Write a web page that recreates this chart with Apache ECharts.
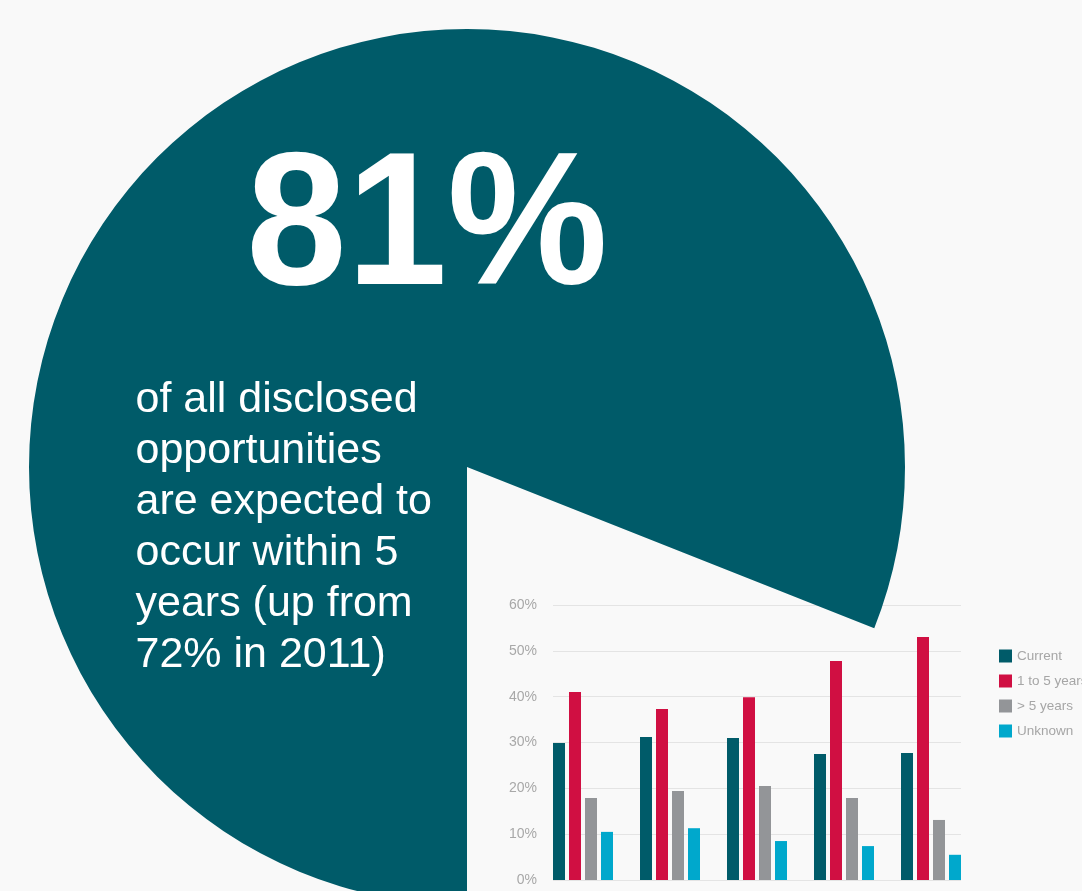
<!DOCTYPE html>
<html>
<head>
<meta charset="utf-8">
<script src="https://cdn.jsdelivr.net/npm/echarts@6/dist/echarts.min.js"></script>
<style>
  html, body { margin: 0; padding: 0; background: #f9f9f9; }
  #chart { width: 1082px; height: 891px; }
</style>
</head>
<body>
<div id="chart"></div>
<script>
// Share of disclosed opportunities expected within 5 years
const headlineShare = 81;
const headlineText = '81%';
const headlineNote = ['of all disclosed', 'opportunities', 'are expected to', 'occur within 5', 'years (up from', '72% in 2011)'];

// Timing breakdown by group (percent of opportunities)
const groups = ['G1', 'G2', 'G3', 'G4', 'G5'];
const seriesNames = ['Current', '1 to 5 years', '> 5 years', 'Unknown'];
const current = [29.9, 31.2, 31.0, 27.5, 27.7];
const oneToFive = [41.0, 37.3, 39.9, 47.8, 53.0];
const overFive = [17.9, 19.4, 20.5, 17.9, 13.1];
const unknown = [10.5, 11.3, 8.5, 7.4, 5.5];
const yTicks = [0, 10, 20, 30, 40, 50, 60];

const TEAL = '#005b69';
const RED = '#d00f42';
const GRAY = '#939598';
const CYAN = '#00a8cc';
const BG = '#f9f9f9';
const FONT = '"Liberation Sans", Arial, Helvetica, sans-serif';

const chart = echarts.init(document.getElementById('chart'), null, { renderer: 'canvas' });

const yMin = yTicks[0];
const yMax = yTicks[yTicks.length - 1];
const yStep = yTicks[1] - yTicks[0];

const barValues = [current, oneToFive, overFive, unknown];
const barColors = [TEAL, RED, GRAY, CYAN];

const barSeries = seriesNames.map((name, i) => ({
  name: name,
  type: 'bar',
  xAxisIndex: 0,
  yAxisIndex: 0,
  data: barValues[i],
  barWidth: 12,
  barGap: '33.3%',
  itemStyle: { color: barColors[i] },
  z: 3,
  silent: true
}));

const option = {
  backgroundColor: BG,
  animation: false,
  legend: {
    orient: 'vertical',
    left: 999,
    top: 649,
    padding: 0,
    itemWidth: 13,
    itemHeight: 13,
    itemGap: 11,
    icon: 'rect',
    data: seriesNames,
    textStyle: { color: '#a6a6a6', fontSize: 13.5, fontFamily: FONT }
  },
  grid: [
    // bars
    { left: 539.5, width: 435, top: 605, height: 275, containLabel: false },
    // gridlines and tick labels
    { left: 553, width: 408, top: 605, height: 275, containLabel: false }
  ],
  xAxis: [
    {
      type: 'category', gridIndex: 0, data: groups,
      axisLine: { show: false }, axisTick: { show: false }, axisLabel: { show: false },
      splitLine: { show: false }
    },
    { type: 'value', gridIndex: 1, min: 0, max: 1, show: false }
  ],
  yAxis: [
    { type: 'value', gridIndex: 0, min: yMin, max: yMax, interval: yStep, show: false },
    {
      type: 'value', gridIndex: 1, min: yMin, max: yMax, interval: yStep,
      axisLine: { show: false }, axisTick: { show: false },
      axisLabel: { formatter: '{value}%', color: '#a8a8a8', fontSize: 14, fontFamily: FONT, margin: 16 },
      splitLine: { show: true, lineStyle: { color: '#e4e4e4', width: 1.2 } }
    }
  ],
  series: [
    {
      type: 'pie',
      center: [467, 467],
      radius: [0, 438],
      startAngle: 270,
      clockwise: true,
      silent: true,
      z: 1,
      label: { show: false },
      labelLine: { show: false },
      data: [
        { value: headlineShare, itemStyle: { color: TEAL } },
        { value: 100 - headlineShare, itemStyle: { color: 'rgba(0,0,0,0)' } }
      ]
    }
  ].concat(barSeries),
  graphic: [
    {
      type: 'text',
      x: 427,
      y: 232,
      scaleX: 0.95,
      z: 10,
      silent: true,
      style: {
        text: headlineText,
        fill: '#ffffff',
        font: 'bold 190px ' + FONT,
        align: 'center',
        verticalAlign: 'middle'
      }
    },
    {
      type: 'text',
      x: 135.5,
      y: 375,
      z: 10,
      silent: true,
      style: {
        text: headlineNote.join('\n'),
        fill: '#ffffff',
        font: '43px ' + FONT,
        lineHeight: 51,
        align: 'left',
        verticalAlign: 'top'
      }
    }
  ]
};

chart.setOption(option);
</script>
</body>
</html>
